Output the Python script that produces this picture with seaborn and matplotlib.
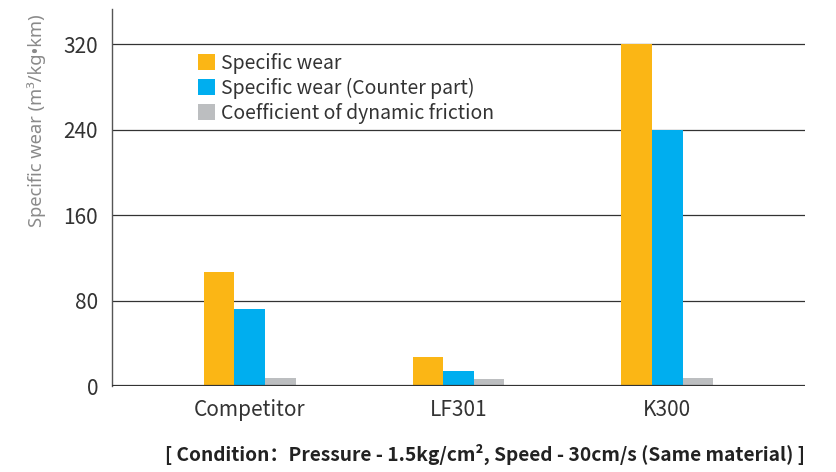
import pandas as pd
import matplotlib.pyplot as plt
import seaborn as sns

# Values
materials = ["Competitor", "LF301", "K300"]
specific_wear = [107, 27, 320]
specific_wear_counter = [72, 14, 240]
dynamic_friction = [8, 6.5, 8]

series_names = [
    "Specific wear",
    "Specific wear (Counter part)",
    "Coefficient of dynamic friction",
]
colors = ["#FBB615", "#00AEEF", "#BCBEC0"]
yticks = [0, 80, 160, 240, 320]

rows = []
for name, vals in zip(series_names, [specific_wear, specific_wear_counter, dynamic_friction]):
    for m, v in zip(materials, vals):
        rows.append({"Material": m, "Series": name, "Value": v})
df = pd.DataFrame(rows)

sns.set_style("white")
plt.rcParams['font.family'] = ['Noto Sans CJK SC', 'DejaVu Sans']

fig = plt.figure(figsize=(8.36, 4.72), dpi=100)
ax = fig.add_axes([0.134, 0.182, 0.829, 0.799])

sns.barplot(data=df, x="Material", y="Value", hue="Series", order=materials,
            hue_order=series_names, palette=colors, width=0.44, saturation=1,
            linewidth=0, ax=ax, zorder=3)

ax.set_ylim(0, 353)
ax.set_xlim(-0.66, 2.66)
ax.set_yticks(yticks)
ax.set_yticklabels([str(t) for t in yticks], fontsize=15, color="#333333")
ax.tick_params(axis="x", labelsize=15, labelcolor="#333333", length=0, pad=9)
ax.tick_params(axis="y", length=0, pad=10)
for t in yticks[1:]:
    ax.axhline(t, color="#333333", lw=0.9, zorder=1)
ax.axhline(0, color="#333333", lw=1.6, zorder=4)

for s in ["top", "right", "bottom"]:
    ax.spines[s].set_visible(False)
ax.spines["left"].set_color("#555555")
ax.spines["left"].set_linewidth(1.0)

ax.set_xlabel("")
# narrow bullet: use a Latin font for the axis label
ax.set_ylabel("Specific wear (m³/kg•km)", fontsize=13.2, color="#8a8a8a",
              family=['Noto Sans', 'DejaVu Sans'])
ax.yaxis.set_label_coords(-0.095, 0.705)

leg = ax.legend(loc="upper left", bbox_to_anchor=(0.113, 0.905), frameon=False,
                fontsize=14, handlelength=0.85, handleheight=0.85,
                handletextpad=0.35, labelspacing=0.2, borderaxespad=0)
for txt in leg.get_texts():
    txt.set_color("#333333")

fig.text(0.963, 0.023, "[ Condition：Pressure - 1.5kg/cm², Speed - 30cm/s (Same material) ]",
         ha="right", va="baseline", fontsize=13.8, fontweight="bold", color="#222222")

plt.savefig("out.png", dpi=100)
plt.close()
